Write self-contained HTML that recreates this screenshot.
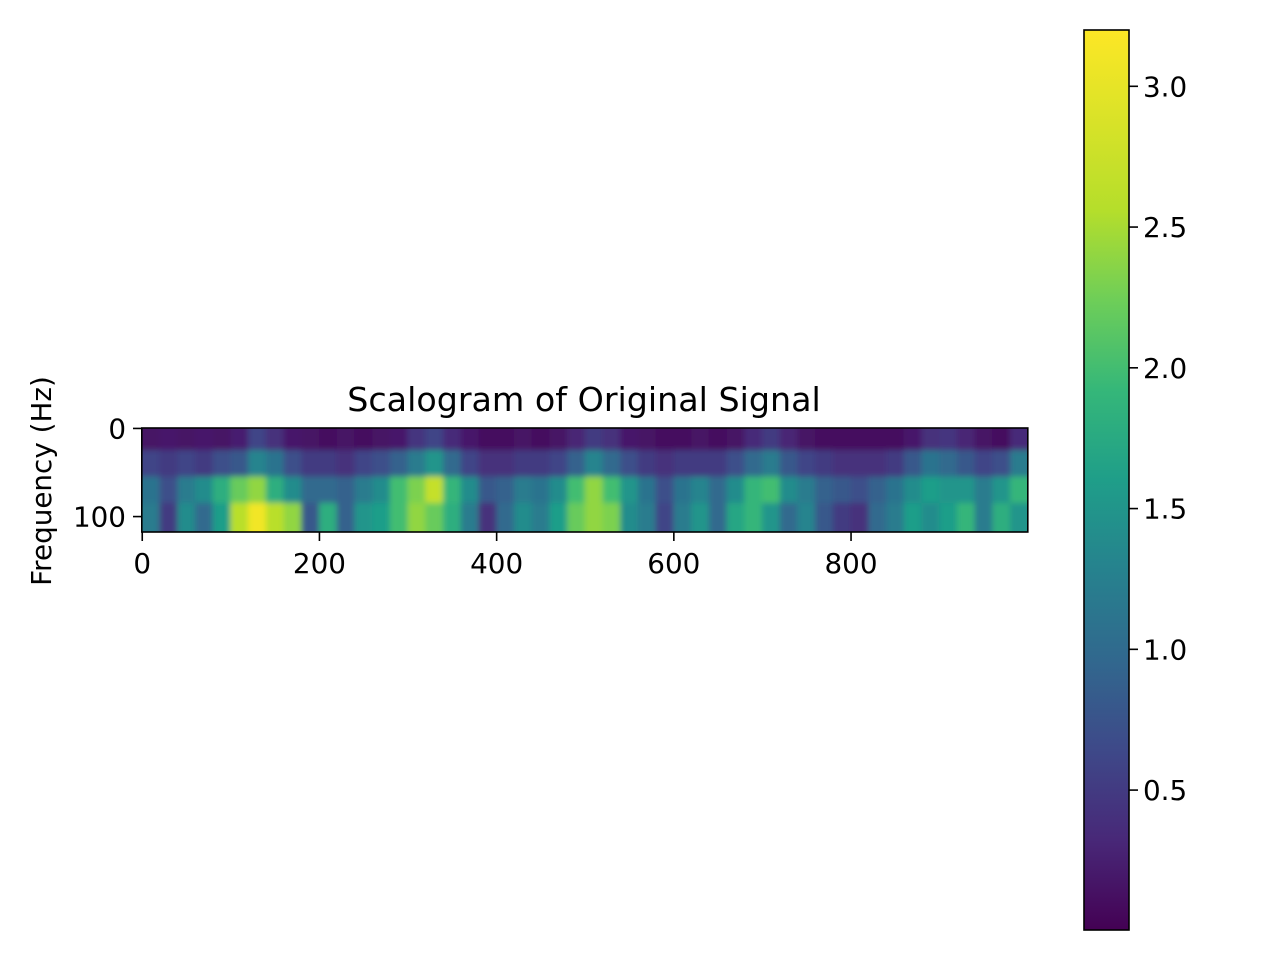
<!DOCTYPE html>
<html><head><meta charset="utf-8"><style>
body{margin:0;background:#fff;}
svg text{font-family:"DejaVu Sans","Liberation Sans",sans-serif;fill:#000;}
</style></head><body>
<svg id="fig" width="1280" height="960" viewBox="0 0 1280 960" xmlns="http://www.w3.org/2000/svg">
<defs><linearGradient id="cbgrad" x1="0" y1="1" x2="0" y2="0">
<stop offset="0" stop-color="#440154"/><stop offset="0.1" stop-color="#482878"/><stop offset="0.2" stop-color="#3e4989"/><stop offset="0.3" stop-color="#31688e"/><stop offset="0.4" stop-color="#26828e"/><stop offset="0.5" stop-color="#1f9e89"/><stop offset="0.6" stop-color="#35b779"/><stop offset="0.7" stop-color="#6ece58"/><stop offset="0.8" stop-color="#b5de2b"/><stop offset="1" stop-color="#fde725"/>
</linearGradient>
<clipPath id="boxclip"><rect x="141.8" y="428" width="886" height="104"/></clipPath>
<filter id="soft" x="-5%" y="-20%" width="110%" height="140%"><feGaussianBlur stdDeviation="3"/></filter>
</defs>
<g clip-path="url(#boxclip)"><g id="heat" filter="url(#soft)"></g></g>
<rect x="141.8" y="428" width="886" height="104" fill="none" stroke="#000" stroke-width="1.6"/>
<g id="xticks"></g>
<g id="yticks"></g>
<text x="584" y="411" style="font-size:33.3px" text-anchor="middle">Scalogram of Original Signal</text>
<text transform="translate(51,481) rotate(-90)" style="font-size:27.8px" text-anchor="middle">Frequency (Hz)</text>
<rect x="1084" y="30" width="45" height="900" fill="url(#cbgrad)" stroke="#000" stroke-width="1.6"/>
<g id="cbticks"></g>
</svg>
<script>
const xTicks=[0,200,400,600,800];
const yTicks=[0,100];
const cbTicks=[0.5,1.0,1.5,2.0,2.5,3.0];
const colStarts=[0,20,40,60,80,100,120,140,160,180,200,220,240,260,280,300,320,340,360,380,400,420,440,460,480,500,520,540,560,580,600,620,640,660,680,700,720,740,760,780,800,820,840,860,880,900,920,940,960,980];
const rowStarts=[0,25,55,85];
const rowEnds=[25,55,85,118];
const row0=[0.15,0.2,0.15,0.2,0.15,0.25,0.6,0.4,0.2,0.15,0.1,0.15,0.1,0.15,0.2,0.45,0.6,0.35,0.2,0.1,0.1,0.15,0.1,0.15,0.3,0.5,0.4,0.2,0.15,0.1,0.1,0.15,0.1,0.15,0.35,0.5,0.3,0.15,0.1,0.1,0.1,0.1,0.1,0.2,0.4,0.45,0.3,0.15,0.1,0.35];
const row1=[0.6,0.5,0.6,0.5,0.7,0.8,1.3,1.1,0.7,0.5,0.5,0.4,0.6,0.7,0.9,1.2,1.5,1.0,0.6,0.4,0.4,0.5,0.5,0.6,0.9,1.3,1.0,0.7,0.5,0.4,0.5,0.5,0.5,0.7,1.0,1.2,0.8,0.6,0.5,0.4,0.4,0.4,0.5,0.8,1.1,1.0,0.8,0.6,0.7,1.2];
const row2=[1.1,0.7,1.2,1.4,1.8,2.2,2.4,1.8,1.4,1.0,1.0,0.9,1.2,1.4,2.0,2.3,2.7,1.9,1.4,0.8,0.9,1.2,1.1,1.4,2.0,2.4,2.0,1.5,1.1,0.7,1.1,1.3,1.0,1.4,1.9,2.0,1.4,1.2,0.9,0.8,0.7,0.9,1.1,1.4,1.6,1.5,1.5,1.2,1.5,1.9];
const row3=[1.2,0.5,1.4,1.0,1.6,2.6,3.1,2.6,2.4,0.8,1.8,0.9,1.5,1.6,2.0,2.4,2.2,1.8,1.2,0.4,1.0,1.4,1.2,1.6,2.2,2.4,2.3,1.4,1.2,0.6,1.2,1.5,1.0,1.7,1.9,1.5,1.0,1.3,0.8,0.5,0.4,1.0,1.2,1.6,1.4,1.6,1.9,1.2,1.8,1.5];
const rows=[row0,row1,row2,row3];
const vmin=0.003,vmax=3.2;
const NS='http://www.w3.org/2000/svg';
const X0=141.8,X1=1027.8,D0=-0.5,D1=999.5;
const Y0=428,Y1=532,YD0=-0.5,YD1=117.5;
function xs(v){return X0+(v-D0)/(D1-D0)*(X1-X0);}
function ys(v){return Y0+(v-YD0)/(YD1-YD0)*(Y1-Y0);}
function cb(v){return 930-(v-vmin)/(vmax-vmin)*900;}
const vir=[[68,1,84],[72,40,120],[62,73,137],[49,104,142],[38,130,142],[31,158,137],[53,183,121],[110,206,88],[181,222,43],[253,231,37]];
const virPos=[0,0.1,0.2,0.3,0.4,0.5,0.6,0.7,0.8,1];
function color(v){let t=Math.max(0,Math.min(1,(v-vmin)/(vmax-vmin)));let i=0;while(i<virPos.length-2&&t>virPos[i+1])i++;const f=(t-virPos[i])/(virPos[i+1]-virPos[i]);const a=vir[i],b=vir[i+1];return 'rgb('+a.map((c,k)=>Math.round(c+(b[k]-c)*f)).join(',')+')';}
function mk(tag,attrs,parent){const e=document.createElementNS(NS,tag);for(const k in attrs)e.setAttribute(k,attrs[k]);parent.appendChild(e);return e;}
const heat=document.getElementById('heat');
rows.forEach((row,r)=>{row.forEach((v,c)=>{
 let x0=xs(colStarts[c]-0.5),x1=xs(colStarts[c]+19.5);
 let y0=ys(rowStarts[r]-0.5),y1=ys(rowEnds[r]-0.5);
 if(c===0)x0-=10; if(c===row.length-1)x1+=10;
 if(r===0)y0-=10; if(r===rows.length-1)y1+=10;
 const e=mk('rect',{x:x0,y:y0,width:x1-x0+0.5,height:y1-y0+0.5,fill:color(v)},heat);
 
 
});});
const xg=document.getElementById('xticks');
xTicks.forEach(t=>{const x=xs(t);
 const l=mk('line',{x1:x,x2:x,y1:532,y2:541,stroke:'#000','stroke-width':1.6},xg);
 
 
 const tx=mk('text',{x:x,y:573,style:'font-size:27.8px','text-anchor':'middle'},xg);tx.textContent=t;
 
 
});
const yg=document.getElementById('yticks');
yTicks.forEach(t=>{const y=ys(t);
 const l=mk('line',{x1:133,x2:141.8,y1:y,y2:y,stroke:'#000','stroke-width':1.6},yg);
 
 
 const tx=mk('text',{x:126,y:y+10,style:'font-size:27.8px','text-anchor':'end'},yg);tx.textContent=t;
 
 
});
const cg=document.getElementById('cbticks');
cbTicks.forEach(t=>{const y=cb(t);
 const l=mk('line',{x1:1129,x2:1138,y1:y,y2:y,stroke:'#000','stroke-width':1.6},cg);
 
 
 const tx=mk('text',{x:1143,y:y+10,style:'font-size:27.8px'},cg);tx.textContent=t.toFixed(1);
 
 
});
</script>
</body></html>
